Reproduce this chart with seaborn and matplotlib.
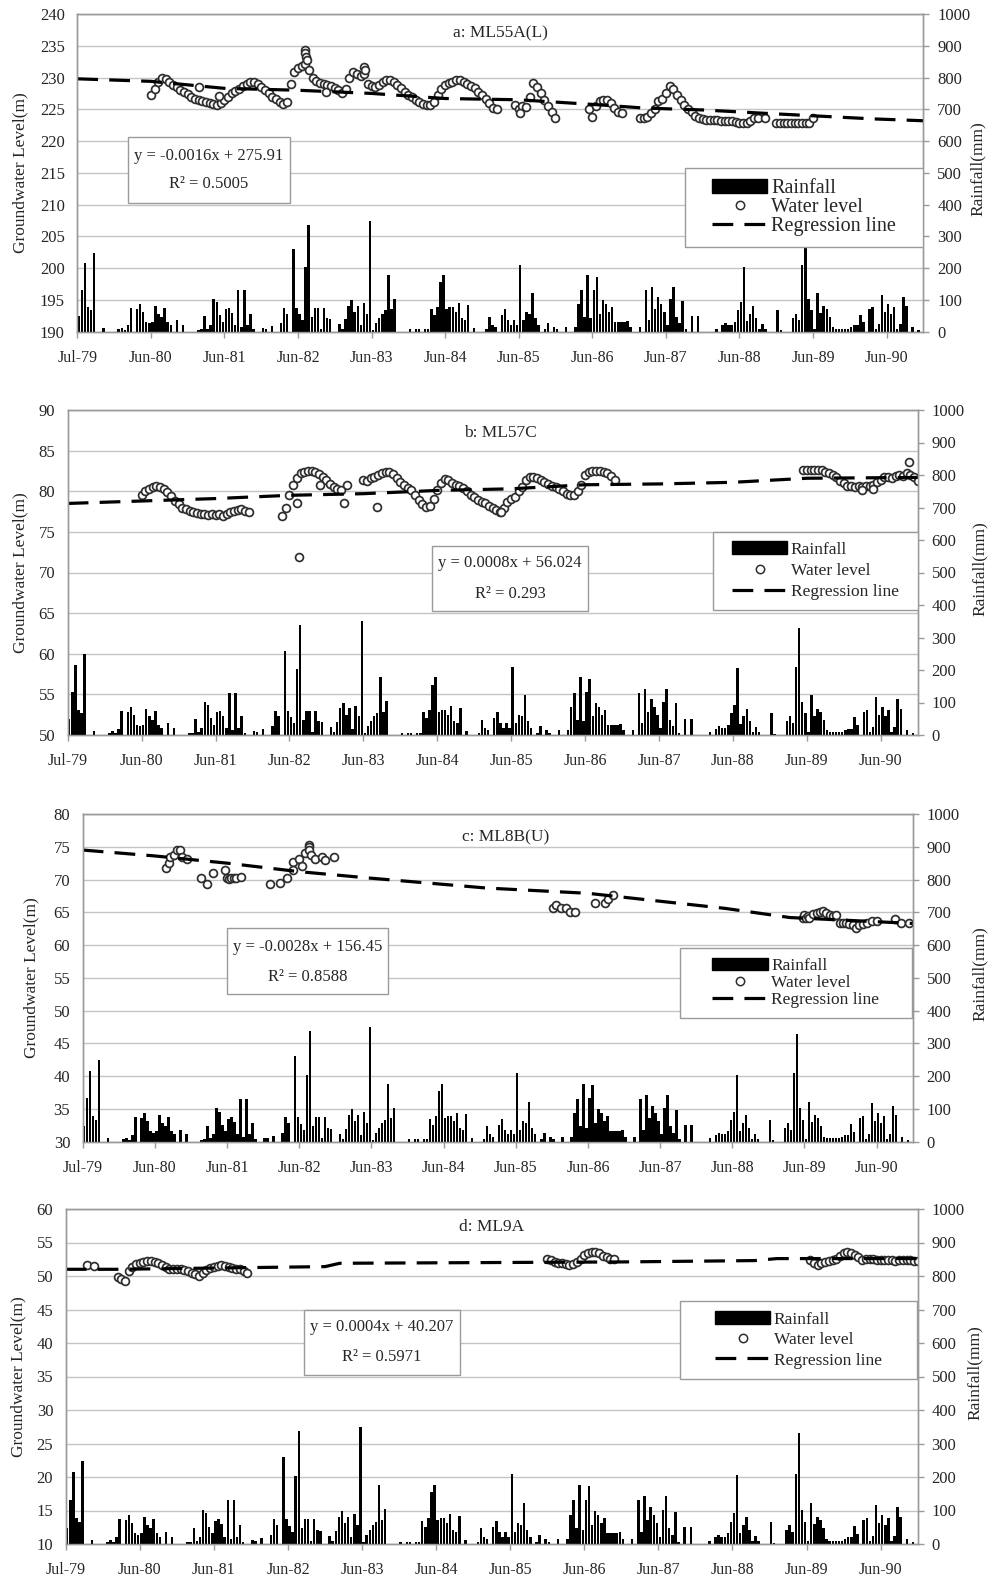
import numpy as np
import pandas as pd
import matplotlib
matplotlib.use("Agg")
import matplotlib.pyplot as plt
from matplotlib.patches import Rectangle, Patch
from matplotlib.lines import Line2D
import seaborn as sns

# time axis: years from start of record (Jul-79 = 0, Jun-80 = 1, ...)
TICK_LABELS = ["Jul-79", "Jun-80", "Jun-81", "Jun-82", "Jun-83", "Jun-84",
               "Jun-85", "Jun-86", "Jun-87", "Jun-88", "Jun-89", "Jun-90"]

# half-monthly rainfall (mm), same station record for all four wells
RAIN_MM = [
    49, 132, 215, 77, 67, 249, 0, 0, 12, 0, 0, 0, 0, 7, 12, 5, 20, 75, 0, 72, 87, 62, 32, 27,
    32, 80, 57, 47, 75, 32, 22, 0, 37, 0, 22, 0, 0, 0, 0, 5, 7, 49, 10, 22, 102, 92, 52, 32,
    70, 75, 60, 22, 130, 15, 130, 22, 57, 7, 0, 0,
    12, 10, 0, 17, 0, 0, 27, 75, 57, 0, 260, 75,
    55, 37, 204, 337, 47, 75, 75, 10, 75, 42, 40, 0,
    0, 24, 8, 40, 82, 100, 62, 82, 20, 90, 57, 350,
    5, 27, 42, 57, 67, 177, 72, 104, 0, 0, 0, 0,
    7, 0, 7, 7, 0, 7, 7, 70, 52, 77, 155, 177,
    72, 77, 77, 62, 89, 42, 37, 84, 0, 12, 0, 0,
    0, 7, 47, 22, 14, 0, 52, 70, 37, 22, 37, 22,
    210, 37, 62, 57, 122, 42, 22, 0, 7, 27, 0, 14,
    7, 0, 0, 14, 0, 0, 14, 87, 130, 47, 177, 42,
    132, 172, 57, 99, 87, 62, 77, 32, 32, 32, 32, 35,
    14, 0, 0, 14, 0, 130, 37, 142, 72, 110, 87, 62,
    22, 102, 142, 47, 27, 97, 7, 0, 50, 0, 50, 0,
    0, 0, 0, 0, 10, 0, 20, 27, 22, 22, 32, 67,
    92, 205, 34, 57, 80, 42, 8, 24, 8, 0, 0, 0,
    67, 4, 0, 0, 0, 42, 57, 37, 210, 330, 102, 67,
    8, 122, 60, 80, 72, 47, 14, 10, 10, 10, 10, 10,
    14, 20, 20, 54, 30, 0, 72, 77, 8, 24, 117, 62,
    87, 57, 77, 8, 24, 110, 80, 0, 14, 0, 5, 0,
]

# water level readings, sampled every 0.05 yr inside each run: (start, values)
WL_A_RUNS = [
    (1.00, [227.3, 228.2, 229.3, 230.0, 229.8, 229.3, 228.9, 228.5, 228.0, 227.8,
            227.4, 227.0, 226.7, 226.5, 226.3, 226.1, 226.0, 225.8, 225.7, 226.0,
            226.5, 227.0, 227.5, 227.9, 228.2, 228.6, 229.0, 229.3, 229.3, 229.0,
            228.5, 228.0, 227.5, 227.0, 226.6, 226.2, 225.9, 226.2, 229.0, 230.8,
            231.5, 231.8, 232.2, 231.2, 230.0, 229.4, 229.2, 229.0, 228.9, 228.7,
            228.4, 228.0, 227.6, 228.2, 229.9, 230.8, 230.6, 230.2, 230.6, 229.0,
            228.7, 228.5, 228.8, 229.3, 229.6, 229.6, 229.3, 228.8, 228.3, 227.8,
            227.3, 226.9, 226.5, 226.2, 225.9, 225.6, 225.6, 226.2, 227.2, 228.2,
            228.8, 229.1, 229.3, 229.6, 229.6, 229.3, 229.0, 228.7, 228.3, 227.8,
            227.2, 226.6, 226.0, 225.2, 225.0]),
    (5.95, [225.7, 225.0, 225.5, 225.3, 227.0, 229.2, 228.5, 227.5, 226.5, 225.5, 224.5, 223.7]),
    (6.95, [225.0, 223.8, 225.5, 226.3, 226.5, 226.4, 226.0, 225.2, 224.6, 224.4]),
    (7.65, [223.6, 223.6, 223.8, 224.4, 225.0, 226.3, 226.7, 227.5, 228.6, 228.2,
            227.2, 226.4, 225.6, 225.0, 224.6, 224.0, 223.6, 223.4, 223.3, 223.3,
            223.3, 223.3, 223.2, 223.2, 223.1, 223.1, 223.0, 222.9, 222.8, 222.8,
            223.1, 223.6, 223.7]),
    (9.50, [222.8, 222.8, 222.8, 222.8, 222.8, 222.8, 222.8, 222.9, 222.8, 222.9, 223.6]),
]
WL_A_EXTRA_T = [1.65, 1.93, 3.10, 3.10, 3.11, 3.12, 3.38, 3.90, 3.91, 9.35, 6.02]
WL_A_EXTRA_Y = [228.5, 227.1, 234.3, 233.8, 233.3, 232.8, 227.8, 231.7, 231.2, 223.7, 224.4]

WL_B_RUNS = [
    (1.00, [79.6, 80.0, 80.3, 80.5, 80.6, 80.5, 80.3, 79.9, 79.4, 78.8,
            78.4, 78.0, 77.8, 77.6, 77.5, 77.3, 77.2, 77.2, 77.1, 77.2,
            77.1, 77.2, 77.0, 77.2, 77.4, 77.6, 77.7, 77.8, 77.6, 77.4]),
    (2.90, [77.0, 78.0, 79.5, 80.8, 81.6, 82.2, 82.4, 82.5, 82.5, 82.4,
            82.1, 81.7, 81.4, 80.9, 80.5, 80.3, 80.2]),
    (4.00, [81.4, 81.3, 81.6, 81.8, 82.0, 82.2, 82.4, 82.4, 82.1, 81.6,
            81.1, 80.8, 80.4, 80.1, 79.6, 78.9, 78.4, 78.1, 78.2, 79.0,
            80.2, 81.0, 81.5, 81.4, 81.0, 80.8, 80.6, 80.4, 80.0, 79.6,
            79.3, 78.9, 78.7, 78.5, 78.2, 77.9, 77.7,
            77.5, 78.0, 78.7, 79.0, 79.3, 80.0, 80.5, 81.4, 81.8, 81.8,
            81.6, 81.4, 81.1, 80.9, 80.7, 80.5, 80.3, 80.0, 79.7, 79.5,
            79.6, 80.0, 80.8, 82.0, 82.4, 82.5, 82.5, 82.5, 82.4, 82.2,
            81.9, 81.4]),
    (9.95, [82.6, 82.6, 82.6, 82.6, 82.6, 82.6, 82.4, 82.3, 82.0, 81.7,
            81.3, 81.0, 80.7, 80.6, 80.5, 80.6, 80.5, 80.7, 80.6, 80.8,
            81.2, 81.4, 81.8, 81.8, 81.6, 81.9, 82.0, 81.9, 82.3, 82.0,
            81.8, 81.3]),
]
WL_B_EXTRA_T = [3.10, 3.13, 3.42, 3.74, 3.78, 4.19, 5.86, 11.38, 10.75, 10.90]
WL_B_EXTRA_Y = [78.5, 71.9, 80.8, 78.5, 80.8, 78.1, 77.5, 83.6, 80.2, 80.3]

WL_C_T = [1.16, 1.19, 1.21, 1.26, 1.30, 1.35, 1.37, 1.44, 1.64, 1.72,
          1.80, 1.97, 2.00, 2.03, 2.06, 2.09, 2.13, 2.19, 2.59, 2.74,
          2.83, 2.91, 2.92, 2.99, 3.04, 3.08, 3.13, 3.13, 3.14, 3.17,
          3.22, 3.31, 3.36, 3.48,
          6.52, 6.56, 6.63, 6.69, 6.75, 6.82, 7.10, 7.24, 7.28, 7.35,
          9.98, 10.00, 10.02, 10.05, 10.07, 10.12, 10.17, 10.21, 10.26, 10.30,
          10.35, 10.40, 10.44, 10.49, 10.53, 10.58, 10.62, 10.67, 10.72, 10.76,
          10.81, 10.86, 10.93, 11.00, 11.25, 11.34, 11.45]
WL_C_Y = [71.7, 72.5, 73.5, 73.8, 74.5, 74.5, 73.5, 73.2, 70.2, 69.3,
          71.0, 71.5, 70.2, 70.1, 70.2, 70.2, 70.2, 70.4, 69.3, 69.4,
          70.2, 72.7, 71.5, 73.2, 72.1, 74.0, 75.3, 74.9, 74.5, 73.7,
          73.2, 73.5, 73.0, 73.5,
          65.6, 66.1, 65.7, 65.6, 65.1, 65.1, 66.4, 66.4, 67.1, 67.6,
          64.1, 64.6, 64.2, 64.4, 64.1, 64.8, 64.9, 65.1, 65.2, 64.9,
          64.6, 64.4, 64.6, 63.3, 63.4, 63.3, 63.2, 63.1, 62.6, 63.1,
          63.2, 63.3, 63.6, 63.7, 64.0, 63.3, 63.3]

WL_D_RUNS = [
    (0.70, [49.8, 49.5, 49.2, 50.8, 51.4, 51.8, 52.0, 52.1, 52.2, 52.2,
            52.1, 51.9, 51.6, 51.3, 51.1, 51.1, 51.0, 51.1, 50.9, 50.7,
            50.5, 50.3, 50.0, 50.4, 50.9, 51.2, 51.4, 51.5, 51.6, 51.5,
            51.4, 51.2, 51.1, 51.0, 50.8, 50.4]),
    (6.50, [52.6, 52.4, 52.1, 52.0, 51.9, 51.8, 51.6, 51.8, 52.1, 52.6,
            53.1, 53.4, 53.6, 53.6, 53.5, 53.0, 52.8, 52.6, 52.6]),
    (10.05, [52.4, 52.0, 51.6, 51.9, 52.1, 52.3, 52.4, 52.6, 53.0, 53.4,
             53.6, 53.4, 53.1, 52.8, 52.4, 52.5, 52.6, 52.5, 52.4, 52.4,
             52.4, 52.4, 52.4, 52.3, 52.4, 52.4, 52.4, 52.4, 52.3, 52.3]),
]
WL_D_EXTRA_T = [0.29, 0.38]
WL_D_EXTRA_Y = [51.6, 51.5]

# regression lines as drawn in the original figure
REG_A_T = [0, 1, 2, 3, 4, 5, 6, 7.1, 7.7, 8.5, 9.3, 10.8, 11.5]
REG_A_Y = [229.8, 229.4, 228.3, 228.0, 227.5, 226.7, 226.5, 225.7, 225.2, 224.9, 224.4, 223.5, 223.2]
REG_B_T = [0, 1, 2, 3, 4, 5, 6, 7, 8, 9, 9.6, 10, 11.5]
REG_B_Y = [78.5, 78.8, 79.1, 79.5, 79.7, 80.1, 80.3, 80.8, 80.9, 81.1, 81.4, 81.6, 81.7]
REG_C_T = [0, 1, 2, 3, 4, 5.6, 7, 8.9, 9.8, 11.5]
REG_C_Y = [74.5, 73.6, 72.5, 71.2, 70.2, 68.7, 67.9, 65.6, 64.2, 63.3]
REG_D_T = [0, 0.7, 3.5, 3.7, 7.5, 9.3, 9.6, 11.5]
REG_D_Y = [51.0, 51.0, 51.4, 51.9, 52.1, 52.3, 52.6, 52.6]

EQUATIONS = {
    "a": ("y = -0.0016x + 275.91", "R\u00b2 = 0.5005"),
    "b": ("y = 0.0008x + 56.024", "R\u00b2 = 0.293"),
    "c": ("y = -0.0028x + 156.45", "R\u00b2 = 0.8588"),
    "d": ("y = 0.0004x + 40.207", "R\u00b2 = 0.5971"),
}

FIG_W, FIG_H = 989, 1585
GRID = "#c4c4c4"
FRAME = "#9a9a9a"
DASH = (0, (6.5, 3.5))


def runs_to_frame(runs, extra_t=(), extra_y=()):
    ts, ys = [], []
    for start, vals in runs:
        ts.extend(start + 0.05 * np.arange(len(vals)))
        ys.extend(vals)
    ts.extend(extra_t)
    ys.extend(extra_y)
    return pd.DataFrame({"t": ts, "level": ys})


def px_rect(l, t, r, b):
    return [l / FIG_W, 1 - b / FIG_H, (r - l) / FIG_W, (b - t) / FIG_H]


PANELS = [
    dict(key="a", title="a: ML55A(L)", ylim=(190, 240),
         wl=runs_to_frame(WL_A_RUNS, WL_A_EXTRA_T, WL_A_EXTRA_Y),
         reg=(REG_A_T, REG_A_Y),
         box=(77.3, 14, 923.3, 331.7), title_xy=(0.50, 0.94),
         eq_box=(0.060, 0.406, 0.251, 0.614), eq_y=(0.553, 0.465),
         leg_box=(0.718, 0.267, 1.0, 0.515), leg_fs=14.5, leg_hl=2.75, leg_ls=0.0,
         ylab_x=20, rlab_x=978),
    dict(key="b", title="b: ML57C", ylim=(50, 90),
         wl=runs_to_frame(WL_B_RUNS, WL_B_EXTRA_T, WL_B_EXTRA_Y),
         reg=(REG_B_T, REG_B_Y),
         box=(67.7, 410, 917.7, 735), title_xy=(0.509, 0.93),
         eq_box=(0.429, 0.3815, 0.612, 0.5825), eq_y=(0.529, 0.435),
         leg_box=(0.759, 0.385, 1.0, 0.6255), leg_fs=12.5, leg_hl=3.2, leg_ls=0.3,
         ylab_x=20, rlab_x=980),
    dict(key="c", title="c: ML8B(U)", ylim=(30, 80),
         wl=pd.DataFrame({"t": WL_C_T, "level": WL_C_Y}),
         reg=(REG_C_T, REG_C_Y),
         box=(82.7, 814, 912.7, 1141.7), title_xy=(0.51, 0.93),
         eq_box=(0.1735, 0.45, 0.368, 0.651), eq_y=(0.595, 0.503),
         leg_box=(0.7196, 0.3766, 0.9988, 0.590), leg_fs=12.5, leg_hl=3.2, leg_ls=0.05,
         ylab_x=31.7, rlab_x=980),
    dict(key="d", title="d: ML9A", ylim=(10, 60),
         wl=runs_to_frame(WL_D_RUNS, WL_D_EXTRA_T, WL_D_EXTRA_Y),
         reg=(REG_D_T, REG_D_Y),
         box=(65.7, 1209, 917.7, 1544), title_xy=(0.50, 0.946),
         eq_box=(0.2797, 0.5045, 0.4628, 0.6985), eq_y=(0.649, 0.559),
         leg_box=(0.721, 0.4916, 0.9988, 0.7263), leg_fs=12.5, leg_hl=3.2, leg_ls=0.25,
         ylab_x=18.3, rlab_x=975),
]


def draw_panel(fig, p):
    l, t, r, b = p["box"]
    ax = fig.add_axes(px_rect(l, t, r, b))
    ax2 = ax.twinx()

    # rainfall bars on the secondary axis
    rain_t = (np.arange(len(RAIN_MM)) + 0.5) / 24
    ax2.bar(rain_t, RAIN_MM, width=0.8 / 24, color="black", linewidth=0,
            antialiased=False)
    ax2.set_ylim(0, 1000)
    ax2.set_yticks(np.arange(0, 1001, 100))

    # water level + regression line
    sns.scatterplot(data=p["wl"], x="t", y="level", ax=ax, marker="o", s=32,
                    color="white", edgecolor="#2e2e2e", linewidth=1.25, zorder=3,
                    legend=False)
    reg_t, reg_y = p["reg"]
    sns.lineplot(x=reg_t, y=reg_y, ax=ax, color="black", lw=2.3, linestyle=DASH,
                 estimator=None, sort=False, zorder=4)

    y0, y1 = p["ylim"]
    ax.set_ylim(y0, y1)
    ax.set_yticks(np.arange(y0, y1 + 1, 5))
    ax.set_xlim(0, 11.5)
    ax.set_xticks(range(len(TICK_LABELS)))
    ax.set_xticklabels(TICK_LABELS)
    ax.set_xlabel("")
    ax.set_ylabel("")

    ax.yaxis.grid(True, color=GRID, lw=1.0)
    ax.xaxis.grid(False)
    ax.set_axisbelow(True)
    for a in (ax, ax2):
        for s in a.spines.values():
            s.set_visible(True)
            s.set_color(FRAME)
            s.set_linewidth(1.0)
    ax.tick_params(axis="y", length=0, pad=9, labelsize=12)
    ax.tick_params(axis="x", length=4, width=1, color=FRAME, pad=9, labelsize=11.5,
                   direction="out", bottom=True)
    ax2.tick_params(axis="y", length=4, width=1, color=FRAME, pad=6, labelsize=12,
                    direction="out", right=True)

    ax.text(p["title_xy"][0], p["title_xy"][1], p["title"], transform=ax.transAxes,
            ha="center", va="center", fontsize=12.5)

    # equation box
    el, eb, er, et = p["eq_box"]
    ax2.add_patch(Rectangle((el, eb), er - el, et - eb, transform=ax2.transAxes,
                            facecolor="white", edgecolor=FRAME, lw=1.0, zorder=6))
    line1, line2 = EQUATIONS[p["key"]]
    xc = (el + er) / 2
    ax2.text(xc, p["eq_y"][0], line1, transform=ax2.transAxes, ha="center",
             va="center", fontsize=12, zorder=7)
    ax2.text(xc, p["eq_y"][1], line2, transform=ax2.transAxes, ha="center",
             va="center", fontsize=12, zorder=7)

    # legend inside a drawn frame
    ll, lb, lr, lt = p["leg_box"]
    ax2.add_patch(Rectangle((ll, lb), lr - ll, lt - lb, transform=ax2.transAxes,
                            facecolor="white", edgecolor=FRAME, lw=1.0, zorder=6))
    handles = [
        Patch(facecolor="black", edgecolor="black"),
        Line2D([], [], marker="o", ls="none", mfc="white", mec="#2e2e2e", ms=6, mew=1.1),
        Line2D([], [], color="black", lw=2.3, ls=DASH),
    ]
    leg = ax2.legend(handles, ["Rainfall", "Water level", "Regression line"],
                     loc="center", bbox_to_anchor=((ll + lr) / 2, (lb + lt) / 2),
                     bbox_transform=ax2.transAxes, frameon=False,
                     fontsize=p["leg_fs"], handlelength=p["leg_hl"],
                     handletextpad=0.2, labelspacing=p["leg_ls"], borderpad=0.1)
    leg.set_zorder(8)

    yc = 1 - (t + b) / 2 / FIG_H
    fig.text(p["ylab_x"] / FIG_W, yc, "Groundwater Level(m)", rotation=90,
             ha="center", va="center", fontsize=12.5)
    fig.text(p["rlab_x"] / FIG_W, yc + 4 / FIG_H, "Rainfall(mm)", rotation=90,
             ha="center", va="center", fontsize=12.5)


def main():
    sns.set_theme(style="white")
    plt.rcParams["font.family"] = ["Liberation Serif", "DejaVu Serif"]
    plt.rcParams["axes.unicode_minus"] = False

    fig = plt.figure(figsize=(FIG_W / 100, FIG_H / 100), dpi=100)
    fig.patch.set_facecolor("white")
    for p in PANELS:
        draw_panel(fig, p)
    fig.savefig("out.png", dpi=100, facecolor="white")
    plt.close(fig)


if __name__ == "__main__":
    main()
